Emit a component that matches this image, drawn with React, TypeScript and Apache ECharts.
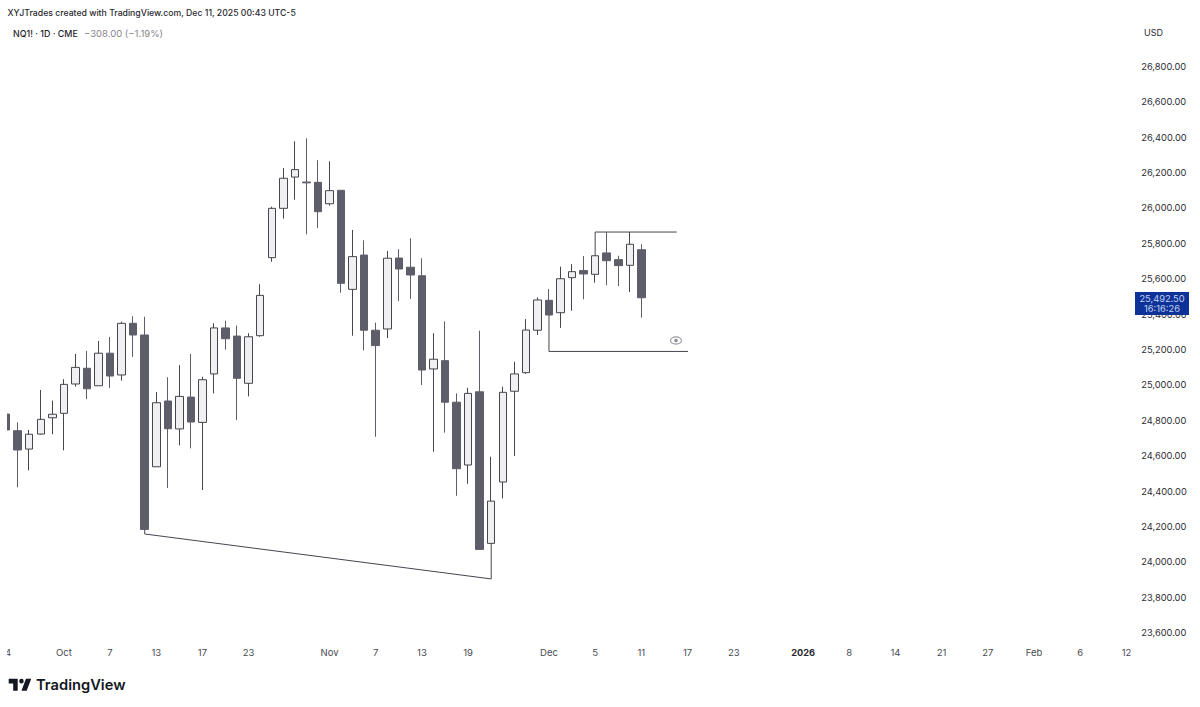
import React, { useEffect, useRef } from "react";
import * as echarts from "echarts";

const tickLabels: Record<number, string> = {
  0: "4", 5: "Oct", 9: "7", 13: "13", 17: "17", 21: "23", 28: "Nov", 32: "7", 36: "13", 40: "19",
  47: "Dec", 51: "5", 55: "11", 59: "17", 63: "23", 69: "2026", 73: "8", 77: "14", 81: "21", 85: "27",
  89: "Feb", 93: "6", 97: "12",
};
const slotCount = 98;
const categories = Array.from({ length: slotCount }, (_, i) => tickLabels[i] ?? "");

const opens = [24835, 24741, 24637, 24722, 24814, 24839, 25005, 25094, 24995, 25179, 25056, 25348, 25282, 24537, 24909, 24751, 24931, 24788, 25062, 25322, 25276, 25009, 25278, 25719, 25998, 26175, 26147, 26145, 26024, 26100, 25540, 25734, 25309, 25316, 25717, 25665, 25617, 25090, 25137, 24902, 24547, 24961, 24104, 24451, 24964, 25069, 25309, 25478, 25408, 25606, 25646, 25625, 25746, 25708, 25676, 25764];
const closes = [24745, 24632, 24721, 24805, 24834, 25003, 25099, 24978, 25179, 25050, 25348, 25282, 24183, 24899, 24752, 24935, 24790, 25029, 25322, 25261, 25037, 25272, 25506, 25998, 26168, 26217, 26142, 25979, 26098, 25574, 25725, 25309, 25222, 25716, 25655, 25621, 25084, 25145, 24902, 24526, 24952, 24070, 24343, 24958, 25062, 25310, 25480, 25395, 25600, 25640, 25627, 25730, 25702, 25674, 25795, 25492.5];
const lows = [24745, 24421, 24517, 24718, 24721, 24630, 24990, 24920, 24995, 24982, 25024, 25158, 24183, 24537, 24417, 24658, 24641, 24406, 24952, 25199, 24801, 24935, 25272, 25696, 25940, 26047, 25851, 25887, 26013, 25521, 25278, 25195, 24707, 25265, 25474, 25486, 24999, 24622, 24730, 24373, 24441, 24070, 24104, 24359, 24598, 25062, 25282, 25395, 25322, 25419, 25484, 25578, 25563, 25559, 25525, 25380];
const highs = [24835, 24788, 24745, 24971, 24911, 25032, 25175, 25192, 25248, 25271, 25357, 25388, 25385, 24960, 25043, 25112, 25175, 25046, 25348, 25363, 25335, 25292, 25569, 26007, 26226, 26377, 26394, 26270, 26264, 26100, 25876, 25817, 25352, 25757, 25767, 25829, 25716, 25292, 25359, 24952, 24984, 25306, 24594, 24990, 25131, 25372, 25495, 25542, 25668, 25683, 25729, 25730, 25864, 25730, 25864, 25795];

const trendLine = [[12, 24183], [12, 24157], [42, 23903], [42, 24104]];
const resistanceLine = [[51, 25730], [51, 25864], [58.06, 25864]];
const supportLine = [[47, 25395], [47, 25189], [59.04, 25189]];

const FONT = "Inter, 'Noto Sans', sans-serif";
const LOGO =
  "M14 6H2v6h6v9h6V6zm12 15h-7l6-15h7l-6 15zm-7-9a3 3 0 1 0 0-6 3 3 0 0 0 0 6z";

export default function App() {
  const ref = useRef<HTMLDivElement>(null);
  useEffect(() => {
    document.body.style.margin = "0";
    document.body.style.background = "#ffffff";
    echarts.graphic.registerShape("tvlogo", echarts.graphic.extendPath(LOGO, {}));
    const chart = echarts.init(ref.current!, null, { renderer: "svg" });
    const drawing = (data: number[][]) => ({
      type: "line",
      xAxisIndex: 1,
      yAxisIndex: 0,
      data,
      showSymbol: false,
      symbol: "none",
      silent: true,
      z: 3,
      lineStyle: { color: "#45454e", width: 1 },
    });
    chart.setOption({
      animation: false,
      backgroundColor: "#ffffff",
      grid: { left: 0.33, top: 31.1, width: 1131.9, height: 636.8, containLabel: false },
      xAxis: [
        {
          type: "category",
          data: categories,
          boundaryGap: true,
          offset: -20,
          axisLine: { show: false },
          axisTick: { show: false },
          splitLine: { show: false },
          axisLabel: {
            interval: 0,
            margin: 0,
            color: "#4a4a52",
            fontFamily: FONT,
            fontSize: 9.5,
            hideOverlap: false,
            formatter: (v: string, i: number) =>
              v === "2026" ? `{b|${v}}` : i === 0 ? `{s|${v}}` : v,
            rich: {
              b: { fontWeight: 700, color: "#2a2a30", fontSize: 9.2, fontFamily: FONT },
              s: { color: "#4a4a52", fontSize: 9.5, fontFamily: FONT, padding: [0, 0, 0, 4] },
            },
          },
        },
        { type: "value", min: -0.5, max: 97.5, show: false },
      ],
      yAxis: {
        type: "value",
        position: "right",
        min: 23400,
        max: 27000,
        interval: 200,
        axisLine: { show: false },
        axisTick: { show: false },
        splitLine: { show: false },
        axisLabel: {
          margin: 9,
          color: "#2c2c32",
          fontFamily: FONT,
          fontSize: 9.3,
          formatter: (v: number) =>
            v <= 23400 || v >= 27000
              ? ""
              : v.toLocaleString("en-US", { minimumFractionDigits: 2, maximumFractionDigits: 2 }),
        },
      },
      series: [
        {
          type: "candlestick",
          xAxisIndex: 0,
          yAxisIndex: 0,
          barWidth: 8,
          data: opens.map((o, i) => [o, closes[i], lows[i], highs[i]]),
          itemStyle: {
            color: "#f0f0f2",
            color0: "#5d5e69",
            borderColor: "#45454d",
            borderColor0: "#5d5e69",
            borderWidth: 1,
          },
        },
        drawing(trendLine),
        drawing(resistanceLine),
        drawing(supportLine),
      ],
      graphic: [
        { type: "rect", z: 50, shape: { x: 0, y: 40, width: 7, height: 625 }, style: { fill: "#ffffff" } },
        { type: "text", z: 60, x: 7.5, y: 13, style: { text: "XYJTrades created with TradingView.com, Dec 11, 2025 00:43 UTC-5", font: `500 8.7px ${FONT}`, fill: "#2a2a30", textVerticalAlign: "middle" } },
        { type: "text", z: 60, x: 13, y: 33, style: { text: "NQ1! · 1D · CME", font: `500 8.9px ${FONT}`, fill: "#26262c", textVerticalAlign: "middle" } },
        { type: "text", z: 60, x: 84, y: 33, style: { text: "−308.00 (−1.19%)", font: `400 9.5px ${FONT}`, fill: "#85858c", textVerticalAlign: "middle" } },
        { type: "text", z: 60, x: 1144, y: 32, style: { text: "USD", font: `400 9px ${FONT}`, fill: "#2c2c32", textVerticalAlign: "middle" } },
        { type: "rect", z: 60, shape: { x: 1135, y: 292, width: 54, height: 23 }, style: { fill: "#0d3399" } },
        { type: "text", z: 61, x: 1162, y: 298, style: { text: "25,492.50", font: `400 9.3px ${FONT}`, fill: "#c3d0f2", textAlign: "center", textVerticalAlign: "middle" } },
        { type: "text", z: 61, x: 1162, y: 308, style: { text: "16:16:26", font: `400 9.3px ${FONT}`, fill: "#c3d0f2", textAlign: "center", textVerticalAlign: "middle" } },
        { type: "ellipse", z: 60, shape: { cx: 676, cy: 340.5, rx: 5.5, ry: 3.6 }, style: { fill: "none", stroke: "#9a9aa0", lineWidth: 1.2 } },
        { type: "circle", z: 60, shape: { cx: 676, cy: 340.5, r: 1.8 }, style: { fill: "#8f8f96" } },
        { type: "tvlogo", z: 60, x: 7.2, y: 674, scaleX: 0.75, scaleY: 0.8, style: { fill: "#131722" } },
        { type: "text", z: 60, x: 36, y: 685, style: { text: "TradingView", font: `600 14.7px ${FONT}`, fill: "#131722", textVerticalAlign: "middle" } },
      ],
    });
    return () => chart.dispose();
  }, []);
  return <div ref={ref} style={{ position: "absolute", left: 0, top: 0, width: 1200, height: 707 }} />;
}
